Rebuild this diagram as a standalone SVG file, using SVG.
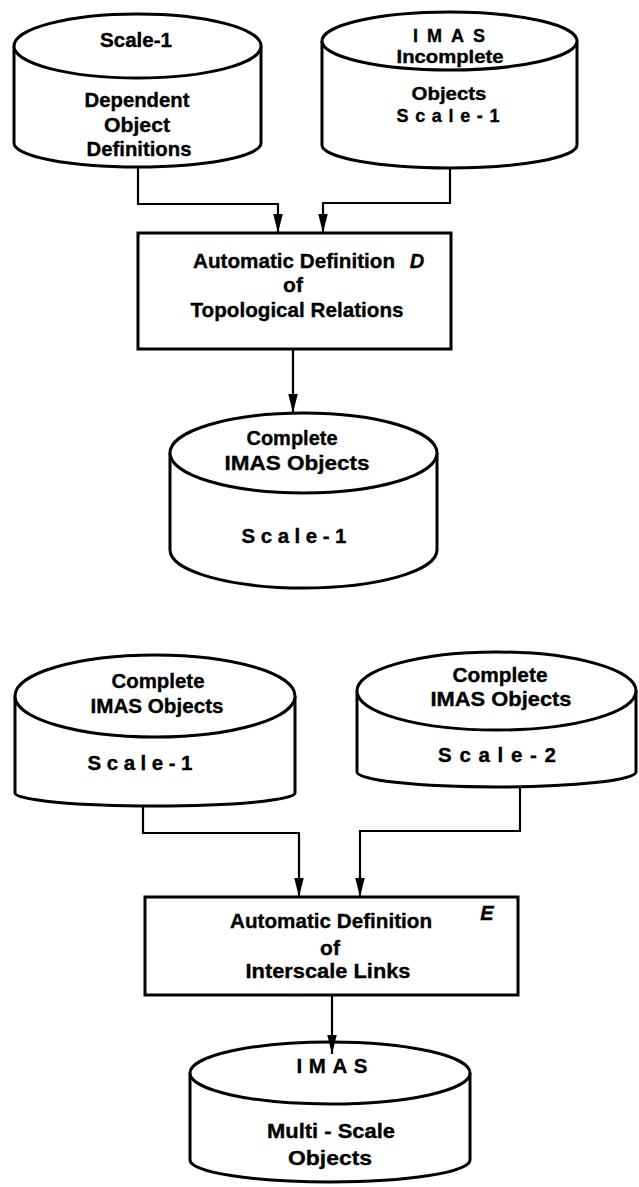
<svg xmlns="http://www.w3.org/2000/svg" width="639" height="1187" viewBox="0 0 639 1187">
  <style>
    .shape { fill: #fff; stroke: #000; stroke-width: 3; }
    .wire { fill: none; stroke: #000; stroke-width: 2.2; }
    text { font-family: "Liberation Sans", Arial, sans-serif; font-weight: bold; fill: #000; stroke: #000; stroke-width: 0.35; text-anchor: middle; }
    .c { font-size: 20.5px; }
    .s { font-size: 18px; }
    .b { font-size: 21px; }
    .tag { font-size: 20px; font-style: italic; }
  </style>
  <defs>
    <marker id="arrow" viewBox="0 0 20 10" refX="20" refY="5" markerWidth="19" markerHeight="10" markerUnits="userSpaceOnUse" orient="auto">
      <path d="M0,0 L20,5 L0,10 z" fill="#000"/>
    </marker>
  </defs>

  <!-- Scale-1 dependent object definitions -->
  <g id="dependent-defs">
    <path class="shape" d="M14,46 L14,143 A123.5,24 0 0 0 261,143 L261,46"/>
    <ellipse class="shape" cx="137.5" cy="46" rx="123.5" ry="32"/>
    <text class="c" x="136" y="47" textLength="72" lengthAdjust="spacingAndGlyphs">Scale-1</text>
    <text class="c" x="137" y="107" textLength="105" lengthAdjust="spacingAndGlyphs">Dependent</text>
    <text class="c" x="137" y="132" textLength="66" lengthAdjust="spacingAndGlyphs">Object</text>
    <text class="c" x="139" y="156" textLength="105" lengthAdjust="spacingAndGlyphs">Definitions</text>
  </g>

  <!-- IMAS incomplete objects, scale 1 -->
  <g id="imas-incomplete">
    <path class="shape" d="M322,41 L322,145 A127.5,23 0 0 0 577,145 L577,41"/>
    <ellipse class="shape" cx="449.5" cy="41" rx="127.5" ry="29"/>
    <text class="s" x="449" y="42" textLength="72" lengthAdjust="spacing">IMAS</text>
    <text class="s" x="450" y="63" textLength="107" lengthAdjust="spacingAndGlyphs">Incomplete</text>
    <text class="s" x="449" y="100" textLength="75" lengthAdjust="spacingAndGlyphs">Objects</text>
    <text class="s" x="448" y="122" textLength="103" lengthAdjust="spacing">Scale-1</text>
  </g>

  <!-- Process D -->
  <g id="process-d">
    <rect class="shape" x="138" y="233" width="313" height="116"/>
    <text class="b" x="294" y="268" textLength="202" lengthAdjust="spacingAndGlyphs">Automatic Definition</text>
    <text class="tag" x="417" y="268">D</text>
    <text class="b" x="293" y="292">of</text>
    <text class="b" x="297" y="317" textLength="213" lengthAdjust="spacingAndGlyphs">Topological Relations</text>
  </g>

  <!-- Complete IMAS objects, scale 1 (result of D) -->
  <g id="complete-scale1-a">
    <path class="shape" d="M170,453 L170,550 A133.5,38 0 0 0 437,550 L437,453"/>
    <ellipse class="shape" cx="303.5" cy="453" rx="133.5" ry="40"/>
    <text class="c" x="292" y="445" textLength="91" lengthAdjust="spacingAndGlyphs">Complete</text>
    <text class="c" x="297" y="470" textLength="145" lengthAdjust="spacingAndGlyphs">IMAS Objects</text>
    <text class="c" x="294" y="543" textLength="105" lengthAdjust="spacing">Scale-1</text>
  </g>

  <!-- Complete IMAS objects, scale 1 (input of E) -->
  <g id="complete-scale1-b">
    <path class="shape" d="M15,696 L15,793 A140,13 0 0 0 295,793 L295,696"/>
    <ellipse class="shape" cx="155" cy="696" rx="140" ry="41"/>
    <text class="c" x="158" y="688" textLength="93" lengthAdjust="spacingAndGlyphs">Complete</text>
    <text class="c" x="157" y="713" textLength="133" lengthAdjust="spacingAndGlyphs">IMAS Objects</text>
    <text class="c" x="140" y="770" textLength="105" lengthAdjust="spacing">Scale-1</text>
  </g>

  <!-- Complete IMAS objects, scale 2 -->
  <g id="complete-scale2">
    <path class="shape" d="M357,691 L357,772 A139.5,15 0 0 0 636,772 L636,691"/>
    <ellipse class="shape" cx="496.5" cy="691" rx="139.5" ry="39"/>
    <text class="c" x="500" y="682" textLength="95" lengthAdjust="spacingAndGlyphs">Complete</text>
    <text class="c" x="501" y="706" textLength="141" lengthAdjust="spacingAndGlyphs">IMAS Objects</text>
    <text class="c" x="497" y="762" textLength="118" lengthAdjust="spacing">Scale-2</text>
  </g>

  <!-- Process E -->
  <g id="process-e">
    <rect class="shape" x="145" y="897" width="373" height="98"/>
    <text class="b" x="331" y="928" textLength="202" lengthAdjust="spacingAndGlyphs">Automatic Definition</text>
    <text class="tag" x="487" y="920">E</text>
    <text class="b" x="330" y="955">of</text>
    <text class="b" x="328" y="978" textLength="165" lengthAdjust="spacingAndGlyphs">Interscale Links</text>
  </g>

  <!-- IMAS multi-scale objects -->
  <g id="imas-multiscale">
    <path class="shape" d="M190,1073 L190,1160 A140,22 0 0 0 470,1160 L470,1073"/>
    <ellipse class="shape" cx="330" cy="1073" rx="140" ry="31"/>
    <text class="c" x="332" y="1073" textLength="71" lengthAdjust="spacing">IMAS</text>
    <text class="c" x="331" y="1138" textLength="128" lengthAdjust="spacingAndGlyphs">Multi - Scale</text>
    <text class="c" x="330" y="1165" textLength="84" lengthAdjust="spacingAndGlyphs">Objects</text>
  </g>

  <!-- Flow connectors -->
  <g id="connectors">
    <path class="wire" d="M138,167 V204 H278 V233" marker-end="url(#arrow)"/>
    <path class="wire" d="M450,168 V203 H323 V233" marker-end="url(#arrow)"/>
    <path class="wire" d="M293,349 V413" marker-end="url(#arrow)"/>
    <path class="wire" d="M143,805 V833 H299 V897" marker-end="url(#arrow)"/>
    <path class="wire" d="M520,787 V831 H360 V897" marker-end="url(#arrow)"/>
    <path class="wire" d="M332,995 V1054" marker-end="url(#arrow)"/>
  </g>
</svg>
